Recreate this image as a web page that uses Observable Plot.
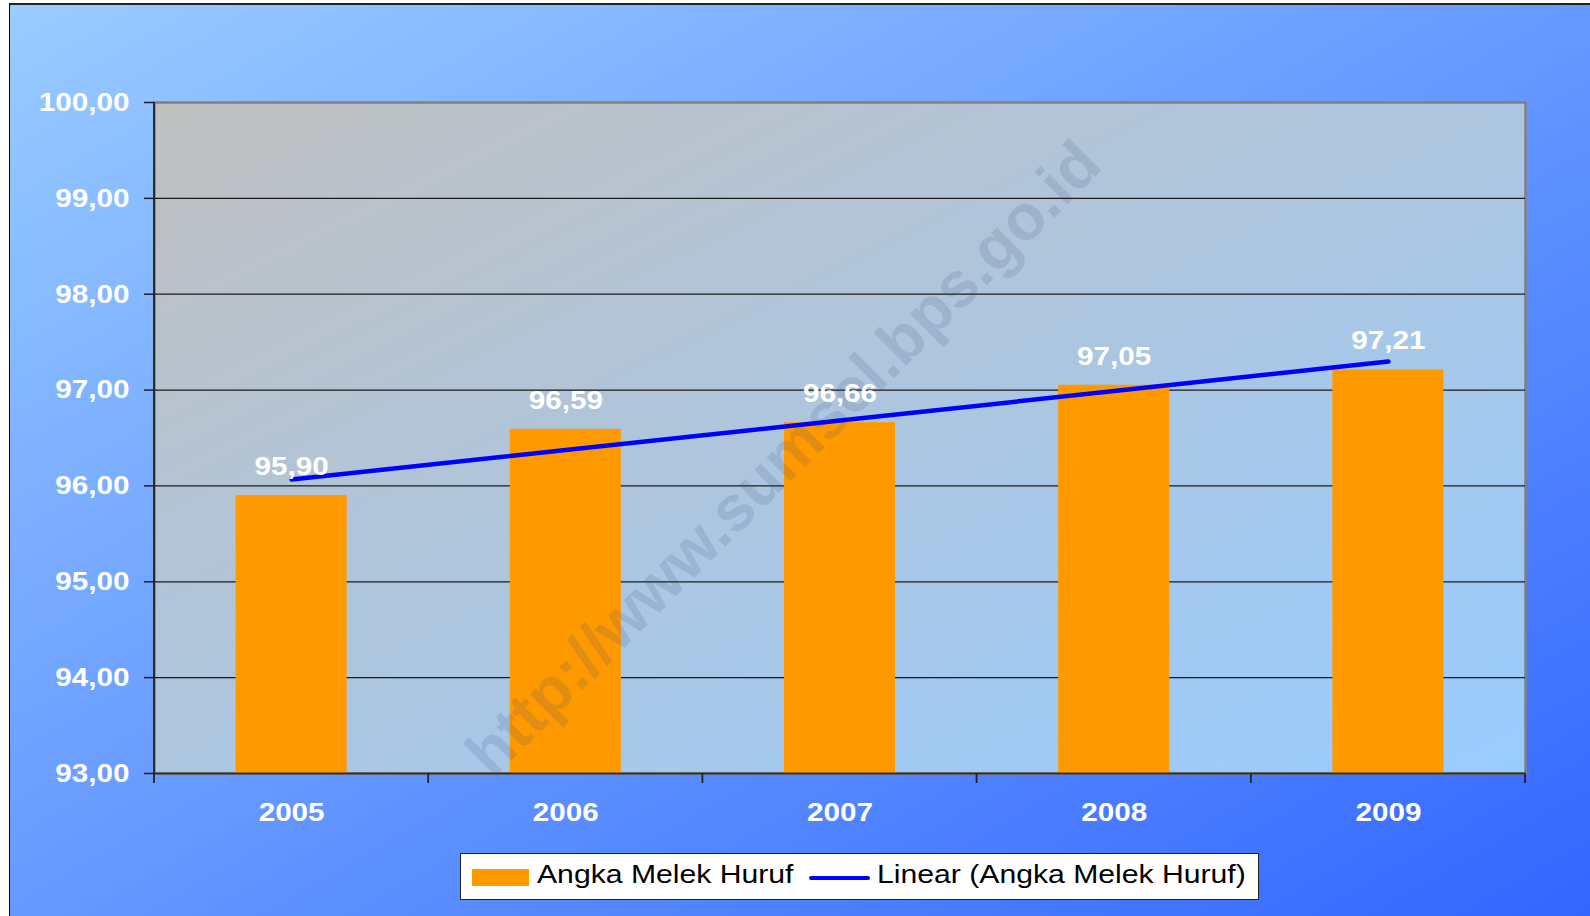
<!DOCTYPE html>
<html>
<head>
<meta charset="utf-8">
<script src="https://cdn.jsdelivr.net/npm/d3@7"></script>
<script src="https://cdn.jsdelivr.net/npm/@observablehq/plot@0.6"></script>
<style>
  html, body { margin: 0; padding: 0; background: #ffffff; width: 1590px; height: 916px; overflow: hidden;
    font-family: "Liberation Sans", Arial, sans-serif; }
  #page { position: absolute; left: 9px; top: 3px; width: 1581px; height: 913px; box-sizing: border-box;
    border-left: 1px solid #000; border-top: 2px solid #222;
    background: linear-gradient(to bottom right, #99ccff, #3366ff); }
  #chart { position: absolute; left: 0; top: 0; }
  #legend { position: absolute; left: 460px; top: 853px; width: 799px; height: 47px; box-sizing: border-box;
    background: #ffffff; border: 1px solid #222; }
  #legend .sw-bar { position: absolute; left: 11px; top: 15px; width: 57px; height: 17px; background: #ff9900; }
  #legend .sw-line { position: absolute; left: 348px; top: 22px; width: 61px; height: 4px; border-radius: 2px; background: #0000ff; }
  #legend .lt { position: absolute; top: 7px; font-size: 26px; line-height: 26px; color: #000; white-space: nowrap;
    transform: scaleX(1.16); transform-origin: left center; }
</style>
</head>
<body>
<div id="page"></div>
<div id="chart"></div>
<div id="legend">
  <div class="sw-bar"></div><span class="lt" id="l1" style="left:76px"></span>
  <div class="sw-line"></div><span class="lt" id="l2" style="left:416px"></span>
</div>
<script>
// ---- data ----
const years = ["2005", "2006", "2007", "2008", "2009"];
const values = [95.90, 96.59, 96.66, 97.05, 97.21];
const yTicks = [93, 94, 95, 96, 97, 98, 99, 100];
const seriesName = "Angka Melek Huruf";
const trendName = "Linear (Angka Melek Huruf)";
const watermark = "http://www.sumsel.bps.go.id";

// ---- derived ----
const fmt = v => d3.format(".2f")(v).replace(".", ",");
const n = values.length;
const mx = d3.mean(d3.range(n)), my = d3.mean(values);
const slope = d3.sum(values, (v, i) => (i - mx) * (v - my)) / d3.sum(d3.range(n), i => (i - mx) ** 2);
const data = years.map((y, i) => ({ year: y, value: values[i], trend: my + slope * (i - mx) }));

document.getElementById("l1").textContent = seriesName;
document.getElementById("l2").textContent = trendName;

const plot = Plot.plot({
  width: 1590,
  height: 840,
  marginLeft: 154,
  marginRight: 65,
  marginTop: 102,
  marginBottom: 67,
  style: { background: "transparent", color: "white", fontFamily: "'Liberation Sans', Arial, sans-serif", overflow: "visible" },
  x: { domain: years, paddingInner: 0.595, paddingOuter: 0.2975, round: false, label: null },
  y: { domain: [93, 100], label: null },
  marks: [
    Plot.frame({ fill: "url(#plotBg)", stroke: "#808080", strokeWidth: 2.5 }),
    Plot.gridY(yTicks.slice(1, -1), { stroke: "#1a1a1a", strokeOpacity: 1, strokeWidth: 1.2 }),
    Plot.barY(data, { x: "year", y1: 93, y2: "value", fill: "#ff9900" }),
    Plot.ruleY([93], { stroke: "#333", strokeWidth: 2 }),
    Plot.text([watermark], { frameAnchor: "middle", text: d => d, rotate: -45, dx: -56, dy: 21,
      fontSize: 64, fontWeight: "bold", fill: "#334d80", fillOpacity: 0.15 }),
    Plot.line(data, { x: "year", y: "trend", stroke: "#0000ff", strokeWidth: 4.5, strokeLinecap: "round" }),
    Plot.text(data, { x: "year", y: "value", text: d => fmt(d.value), dy: -29, fill: "white",
      fontSize: 26, fontWeight: "bold" }),
    Plot.axisY({ ticks: yTicks, tickSize: 10, tickPadding: 15, tickFormat: fmt, fontSize: 26,
      fontWeight: "bold", stroke: "#222", strokeWidth: 1.5 }),
    Plot.axisX({ tickSize: 0, tickPadding: 29, fontSize: 26, fontWeight: "bold" })
  ]
});

document.getElementById("chart").append(plot);

const svg = d3.select(plot);
const defs = svg.insert("defs", ":first-child");
const grad = defs.append("linearGradient").attr("id", "plotBg")
  .attr("x1", 0).attr("y1", 0).attr("x2", 1).attr("y2", 1);
grad.append("stop").attr("offset", 0).attr("stop-color", "#c0c0c0");
grad.append("stop").attr("offset", 1).attr("stop-color", "#99ccff");

// left axis line and category boundary ticks
const xs = plot.scale("x"), ys = plot.scale("y");
const y0 = ys.apply(93), yTop = ys.apply(100);
const half = (xs.step - xs.bandwidth) / 2;
const bounds = years.map(y => xs.apply(y) - half);
bounds.push(bounds[bounds.length - 1] + xs.step);
const g = svg.append("g").attr("stroke", "#222").attr("stroke-width", 1.8);
g.append("line").attr("x1", bounds[0]).attr("x2", bounds[0]).attr("y1", yTop).attr("y2", y0 + 10);
bounds.slice(1).forEach(b => g.append("line").attr("x1", b).attr("x2", b).attr("y1", y0).attr("y2", y0 + 10));

// widen text slightly like the source rendering
svg.selectAll("text").each(function () {
  if (this.textContent === watermark) return;
  const len = this.getComputedTextLength();
  this.setAttribute("textLength", (len * 1.14).toFixed(1));
  this.setAttribute("lengthAdjust", "spacingAndGlyphs");
});
</script>
</body>
</html>
